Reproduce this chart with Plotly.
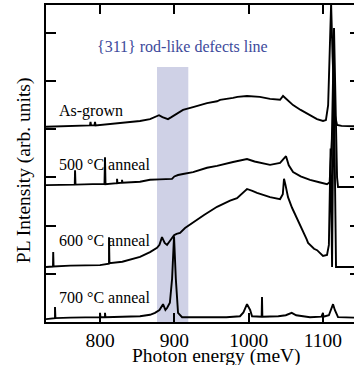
import plotly.graph_objects as go

# ---- data ----
asgrown_x = [727.3, 760, 786.5, 787.2, 788, 792.5, 793.3, 794, 800, 830, 853.8, 867.3, 874, 879.4, 884, 891.5, 896,
             905, 911.7, 925.2, 938.6, 944, 957.5, 961.5, 979, 985, 997.8, 1015, 1028.8, 1042.3, 1046.3, 1049,
             1053, 1059.8, 1070, 1082.6, 1092, 1100.1, 1104, 1107, 1109.5, 1111, 1113, 1116, 1119, 1125, 1141.8]
asgrown_y = [4.05, 4.06, 4.08, 4.15, 4.08, 4.08, 4.15, 4.08, 4.09, 4.13, 4.17, 4.21, 4.25, 4.29, 4.25, 4.21, 4.25,
             4.33, 4.40, 4.46, 4.52, 4.54, 4.58, 4.61, 4.65, 4.67, 4.69, 4.67, 4.63, 4.61, 4.69, 4.65,
             4.58, 4.50, 4.40, 4.29, 4.21, 4.17, 4.19, 4.5, 5.6, 6.6, 5.5, 4.3, 4.09, 4.07, 4.06]

a500_x = [727.3, 750, 766, 766.4, 767, 790, 806, 806.7, 807.4, 822.9, 822.9, 823.5, 829.6, 829.6, 830.2, 853.8,
          867.3, 880, 896.9, 900, 905, 911.7, 925.2, 944, 957.5, 979, 997.8, 1008, 1028.8, 1042.3, 1046, 1050.3,
          1054, 1059.8, 1070, 1082.6, 1095, 1105.5, 1109, 1112, 1114.9, 1117, 1119, 1120.3, 1141.8]
a500_y = [2.84, 2.84, 2.85, 3.15, 2.85, 2.86, 2.86, 3.42, 2.86, 2.88, 2.97, 2.88, 2.89, 2.95, 2.89, 2.91,
          2.95, 2.96, 2.97, 3.02, 3.05, 3.07, 3.11, 3.20, 3.24, 3.32, 3.38, 3.33, 3.26, 3.30, 3.36, 3.44,
          3.25, 3.11, 3.02, 2.95, 2.90, 2.86, 2.9, 3.8, 6.1, 4.5, 3.0, 2.80, 2.80]

a600_x = [727.3, 734, 736.7, 737, 737.5, 760, 800, 812.1, 812.1, 812.7, 830, 853.8, 867.3, 876.7, 880, 883.4,
          887, 890.2, 894, 899.6, 903, 907.7, 914.4, 925.2, 940, 957.5, 975, 984.4, 997.8, 1005, 1011.3,
          1028.8, 1042.3, 1046, 1047.6, 1049.5, 1053, 1058.4, 1065, 1069.2, 1073.2, 1078, 1080, 1088, 1092.1,
          1100.1, 1105.5, 1108, 1110.3, 1112.3, 1114.5, 1117.6, 1141.8]
a600_y = [1.14, 1.15, 1.15, 1.45, 1.15, 1.17, 1.18, 1.21, 1.76, 1.22, 1.25, 1.35, 1.45, 1.54, 1.60, 1.76,
          1.64, 1.60, 1.68, 1.80, 1.83, 1.85, 1.95, 2.07, 2.22, 2.39, 2.52, 2.57, 2.76, 2.72, 2.68,
          2.59, 2.55, 2.65, 2.97, 2.85, 2.59, 2.37, 2.15, 2.01, 1.91, 1.72, 1.64, 1.52, 1.49,
          1.37, 1.39, 1.6, 3.6, 1.14, 5.2, 1.14, 1.14]

a700_x = [727.3, 735, 739.4, 739.4, 740, 760, 780, 800, 800, 800.6, 806.7, 806.7, 807.3, 830, 853.8, 867.3,
          874, 880, 884.8, 888, 890.2, 894, 897, 899.6, 902, 905, 910.4, 940, 970, 988.4, 993, 997.8, 1002,
          1004.6, 1017.5, 1018, 1018.5, 1040, 1050, 1058, 1064, 1082.6, 1098, 1100.1, 1100.6, 1108, 1111,
          1113.6, 1116, 1120.3, 1141.8]
a700_y = [0.06, 0.08, 0.08, 0.31, 0.08, 0.09, 0.09, 0.10, 0.19, 0.10, 0.10, 0.19, 0.10, 0.11, 0.12, 0.15,
          0.19, 0.25, 0.37, 0.25, 0.29, 0.40, 0.9, 1.78, 0.9, 0.19, 0.10, 0.10, 0.10, 0.12, 0.2, 0.37, 0.25,
          0.12, 0.11, 0.52, 0.11, 0.12, 0.14, 0.19, 0.14, 0.10, 0.11, 0.19, 0.11, 0.14, 0.25,
          0.37, 0.25, 0.10, 0.09]

band_x = [876.7, 918.8]
band_top = 5.29

labels = ["As-grown", "500 °C anneal", "600 °C anneal", "700 °C anneal"]
label_y = [4.38, 3.26, 1.70, 0.50]
label_x = 742.1

x_ticks = [800, 900, 1000, 1100]
x_range = [727.3, 1141.8]
y_range = [0, 6.577]

FONT = "Liberation Serif, Times New Roman, serif"

fig = go.Figure()
for xs, ys in [(asgrown_x, asgrown_y), (a500_x, a500_y), (a600_x, a600_y), (a700_x, a700_y)]:
    fig.add_trace(go.Scatter(x=xs, y=ys, mode="lines", line=dict(color="black", width=1.9),
                             showlegend=False, hoverinfo="skip"))
fig.add_trace(go.Scatter(x=[None], y=[None], yaxis="y2", showlegend=False))

fig.add_shape(type="rect", x0=band_x[0], x1=band_x[1], y0=0, y1=band_top, xref="x", yref="y",
              fillcolor="#cfd1e6", line=dict(width=0), layer="below")

for t, yy in zip(labels, label_y):
    fig.add_annotation(x=label_x, y=yy, text=t, showarrow=False, xanchor="left", yanchor="middle",
                       font=dict(family=FONT, size=16, color="black"))
fig.add_annotation(x=910.4, y=5.71, text="{311} rod-like defects line", showarrow=False,
                   xanchor="center", yanchor="middle", font=dict(family=FONT, size=16, color="#3d4a9b"))
# axis titles placed as paper annotations
fig.add_annotation(x=0.553, y=0, xref="paper", yref="paper", yshift=-34, text="Photon energy (meV)",
                   showarrow=False, xanchor="center", yanchor="middle",
                   font=dict(family=FONT, size=19.5, color="black"))
fig.add_annotation(x=0, y=0.479, xref="paper", yref="paper", xshift=-22, text="PL Intensity (arb. units)",
                   textangle=-90, showarrow=False, xanchor="center", yanchor="middle",
                   font=dict(family=FONT, size=19.5, color="black"))

fig.update_layout(
    width=354, height=365,
    margin=dict(l=46, r=0, t=5, b=43),
    paper_bgcolor="white", plot_bgcolor="white",
    font=dict(family=FONT, size=19.5, color="black"),
    xaxis=dict(range=x_range, tickvals=x_ticks, ticks="inside", ticklen=9, tickwidth=1.5,
               tickcolor="black", showline=True, linecolor="black", linewidth=1.5, mirror="ticks",
               showgrid=False, zeroline=False, tickfont=dict(size=19.5), automargin=False),
    yaxis=dict(range=y_range, dtick=1, tick0=0, ticks="inside", ticklen=10, tickwidth=1.5,
               tickcolor="black", showline=True, linecolor="black", linewidth=1.5,
               showticklabels=False, showgrid=False, zeroline=False, automargin=False),
    yaxis2=dict(range=y_range, dtick=1, tick0=0, overlaying="y", side="right", ticks="inside",
                ticklen=4, tickwidth=1.5, tickcolor="black", showline=False, showticklabels=False,
                showgrid=False, zeroline=False),
)

fig.write_html("out.html")
